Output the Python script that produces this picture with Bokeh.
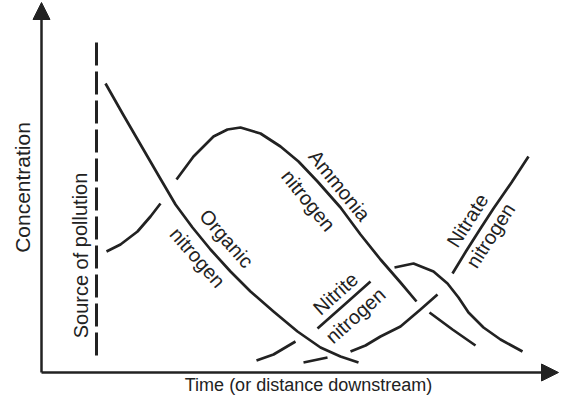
from bokeh.plotting import figure
from bokeh.models import Arrow, NormalHead, Range1d
from bokeh.core.properties import value
from bokeh.embed import file_html
from bokeh.resources import INLINE

# ---- data (time vs concentration) ----
organic_t = [64, 81, 99, 117, 134, 151, 169, 189, 209, 232, 256, 279, 299, 317]
organic_c = [289, 259, 228, 197, 168, 145, 123, 101, 81, 61, 41, 25, 16, 10]

ammonia_t = [[65, 79, 96, 109, 119],
             [135, 152, 172, 186, 199, 219, 239, 257, 276, 299, 319, 339, 359, 375],
             [388, 411, 434]]
ammonia_c = [[121, 128, 141, 156, 169],
             [193, 216, 236, 243, 245, 239, 226, 211, 191, 165, 138, 113, 90, 71],
             [60, 43, 27]]

nitrite_t = [[215, 232, 254],
             [276, 302, 329],
             [353, 372, 392, 406, 417, 427, 442, 459, 481]]
nitrite_c = [[12, 18, 31],
             [44, 67, 91],
             [105, 109, 101, 89, 75, 60, 45, 33, 21]]

nitrate_t = [[262, 286],
             [309, 324, 339, 359, 379, 396],
             [411, 425, 439, 452, 470, 487]]
nitrate_c = [[10, 15],
             [21, 27, 36, 46, 63, 78],
             [99, 122, 144, 164, 190, 216]]

source_t = [55, 55]
source_c = [330, 16]

label_text = ["Organic", "nitrogen", "Ammonia", "nitrogen",
              "Nitrite", "nitrogen", "Nitrate", "nitrogen"]
label_t = [185, 156, 298, 267, 294, 314, 426, 449]
label_c = [134, 115, 187, 172, 79, 57, 152, 137]
label_angle = [-0.85, -0.85, -0.89, -0.89, 0.73, 0.73, 1.0, 1.0]

INK = "#222222"
FONT = value("Liberation Sans")

p = figure(width=560, height=395, output_backend="svg", toolbar_location=None,
           x_axis_type=None, y_axis_type=None,
           x_range=Range1d(-41, 519), y_range=Range1d(-23, 372),
           min_border=0, outline_line_color=None)
p.grid.visible = False
p.background_fill_color = "white"

# axes drawn as arrows
p.add_layout(Arrow(end=NormalHead(size=17, fill_color=INK, line_color=INK),
                   x_start=0, y_start=0, x_end=0, y_end=370,
                   line_width=2.5, line_color=INK))
p.add_layout(Arrow(end=NormalHead(size=17, fill_color=INK, line_color=INK),
                   x_start=0, y_start=0, x_end=517, y_end=0,
                   line_width=2.5, line_color=INK))

# source of pollution (dashed)
p.line(source_t, source_c, line_color=INK, line_width=3, line_dash="23 6")

# curves
p.line(organic_t, organic_c, line_color=INK, line_width=2.7, line_join="round")
p.multi_line(ammonia_t, ammonia_c, line_color=INK, line_width=2.7, line_join="round")
p.multi_line(nitrite_t, nitrite_c, line_color=INK, line_width=2.7, line_join="round")
p.multi_line(nitrate_t, nitrate_c, line_color=INK, line_width=2.7, line_join="round")

# curve labels
p.text(x=label_t, y=label_c, text=label_text, angle=label_angle,
       text_font=FONT, text_font_size="20px", text_color=INK,
       text_align="center", text_baseline="middle")

# axis / annotation texts
p.text(x=[-19], y=[185], text=["Concentration"], angle=[1.5708],
       text_font=FONT, text_font_size="21px", text_color=INK,
       text_align="center", text_baseline="middle")
p.text(x=[39], y=[117], text=["Source of pollution"], angle=[1.5708],
       text_font=FONT, text_font_size="20px", text_color=INK,
       text_align="center", text_baseline="middle")
p.text(x=[267], y=[-12], text=["Time (or distance downstream)"], angle=[0],
       text_font=FONT, text_font_size="18px", text_color=INK,
       text_align="center", text_baseline="middle")

open("out.html", "w").write(file_html(p, INLINE))
